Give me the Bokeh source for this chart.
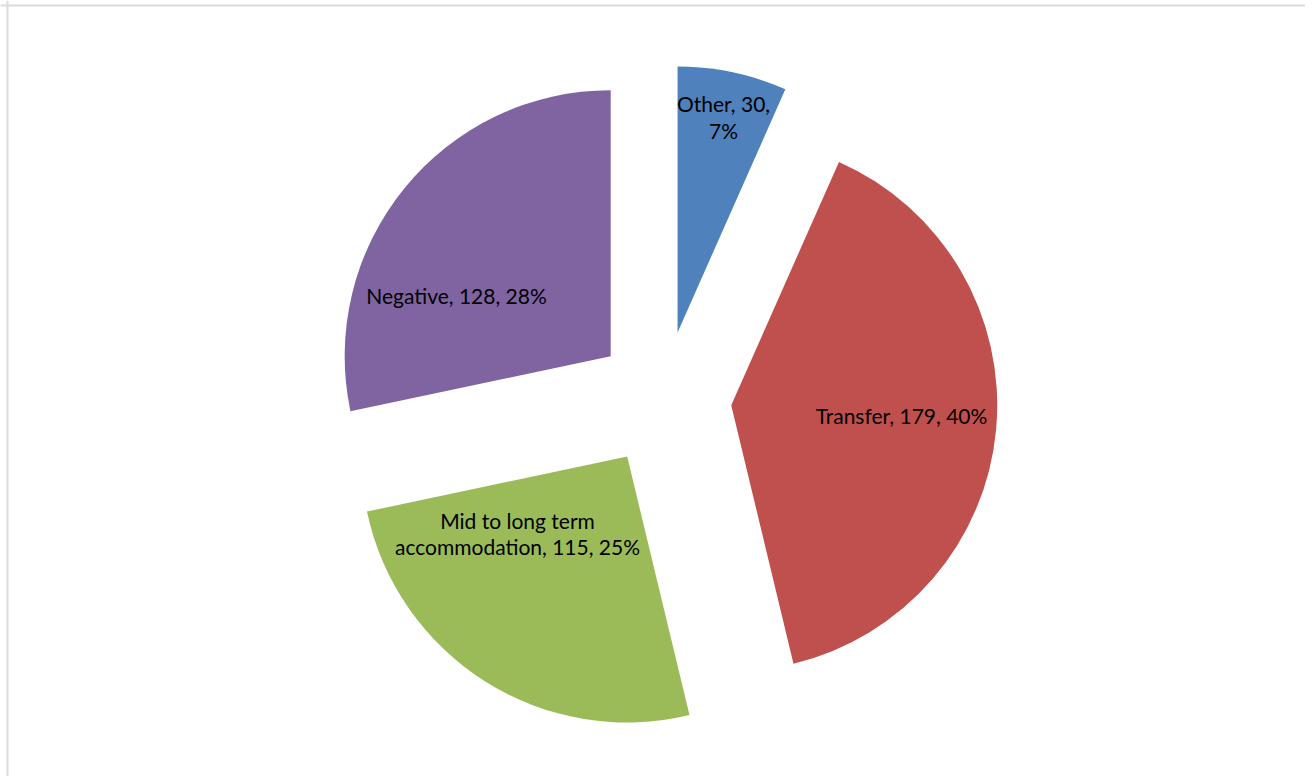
import math
from bokeh.plotting import figure
from bokeh.models import Range1d, ColumnDataSource, Span
from bokeh.core.properties import value
from bokeh.embed import file_html
from bokeh.resources import INLINE

# ---- data ----
categories = ["Other", "Transfer", "Mid to long term accommodation", "Negative"]
counts = [30, 179, 115, 128]
percents = ["7%", "40%", "25%", "28%"]
label_texts = ["Other, 30,\n7%", "Transfer, 179, 40%",
               "Mid to long term\naccommodation, 115, 25%", "Negative, 128, 28%"]
colors = ["#4F81BD", "#C0504D", "#9BBB59", "#8064A2"]

# ---- layout ----
W, H = 1305, 776
CX, CY = 663, 377.5      # pie centre (px, y up)
R = 266                  # radius px
EXPLODE = 68             # explode offset px
# label offsets relative to pie centre (px, y up)
label_dx = [60, 238, -146, -207]
label_dy = [282, -16, -134.5, 103.5]

p = figure(width=W, height=H, output_backend="svg", toolbar_location=None,
           x_range=Range1d(0, W), y_range=Range1d(0, H),
           min_border=0, outline_line_color=None)
p.axis.visible = False
p.grid.visible = False
p.background_fill_color = "white"
p.border_fill_color = "white"

total = sum(counts)
starts, ends, xs, ys = [], [], [], []
cum = 0.0
for c in counts:
    a0 = math.pi / 2 - 2 * math.pi * (cum + c) / total
    a1 = math.pi / 2 - 2 * math.pi * cum / total
    mid = (a0 + a1) / 2
    starts.append(a0)
    ends.append(a1)
    xs.append(CX + EXPLODE * math.cos(mid))
    ys.append(CY + EXPLODE * math.sin(mid))
    cum += c

src = ColumnDataSource(dict(x=xs, y=ys, start=starts, end=ends, color=colors))
p.wedge(x="x", y="y", radius=R, start_angle="start", end_angle="end",
        fill_color="color", line_color=None, source=src)

lsrc = ColumnDataSource(dict(x=[CX + d for d in label_dx],
                             y=[CY + d for d in label_dy], t=label_texts))
p.text(x="x", y="y", text="t", source=lsrc, text_align="center",
       text_baseline="middle", text_font=value("Lato"),
       text_font_size="21px", text_color="black", text_line_height=1.05)

p.add_layout(Span(location=H - 5, dimension="width", line_color="#dcdcdc", line_width=2))
p.add_layout(Span(location=7, dimension="height", line_color="#dcdcdc", line_width=2))

open("out.html", "w").write(file_html(p, INLINE))
